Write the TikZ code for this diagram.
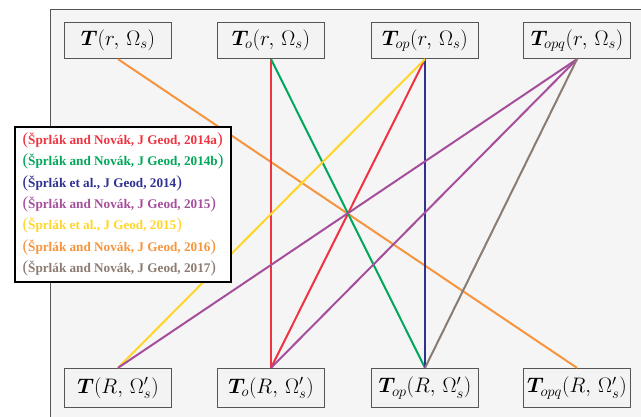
\RequirePackage{fix-cm}
\documentclass[tikz,border=0pt]{standalone}
\usepackage{bm}
\usepackage{fontspec}
\newfontfamily\legendfont{Liberation Serif}
\definecolor{framefill}{RGB}{245,245,245}
\definecolor{framegray}{RGB}{85,85,85}
\definecolor{boxfill}{RGB}{243,243,243}
\definecolor{cred}{RGB}{239,51,64}
\definecolor{cgreen}{RGB}{0,168,89}
\definecolor{cnavy}{RGB}{46,49,146}
\definecolor{cpurple}{RGB}{165,78,155}
\definecolor{cyellow}{RGB}{255,214,40}
\definecolor{corange}{RGB}{247,148,62}
\definecolor{cbrown}{RGB}{140,123,112}
\newcommand\lgd[2]{\textcolor{#1}{{\mdseries\fontsize{17}{17}\selectfont(}#2{\mdseries\fontsize{17}{17}\selectfont)}}}
\begin{document}
\begin{tikzpicture}[x=1pt,y=-1pt,
	box/.style={draw=framegray, line width=1.3pt, fill=boxfill, minimum width=107pt, minimum height=36pt, inner sep=0pt, font=\fontsize{21}{22}\selectfont},
	lowbox/.style={box, minimum height=39pt},
	link/.style={line width=2pt},
	legend/.style={draw=black, line width=1.2pt, fill=white, align=left, inner sep=0pt, minimum width=216pt, minimum height=155pt, font=\legendfont\bfseries\fontsize{13.2}{21.3}\selectfont}
	]
	\clip (0,0) rectangle (641,416);
	\fill[white] (0,0) rectangle (641,416);
	% frame
	\fill[framefill] (50,9) rectangle (700,450);
	\draw[framegray, line width=1pt] (700,9) -- (50,9) -- (50,450);
	% top row
	\node[box] (Tr) at (118,40.5) {$\bm{T}(r,\,\Omega_s)$};
	\node[box] (Tor) at (271,40.5) {$\bm{T}_{o}(r,\,\Omega_s)$};
	\node[box] (Topr) at (425,40.5) {$\bm{T}_{op}(r,\,\Omega_s)$};
	\node[box] (Topqr) at (577,40.5) {$\bm{T}_{opq}(r,\,\Omega_s)$};
	% bottom row
	\node[lowbox] (TR) at (118,388) {$\bm{T}(R,\,\Omega'_s)$};
	\node[lowbox] (ToR) at (271,388) {$\bm{T}_{o}(R,\,\Omega'_s)$};
	\node[lowbox] (TopR) at (425,388) {$\bm{T}_{op}(R,\,\Omega'_s)$};
	\node[lowbox] (TopqR) at (577,388) {$\bm{T}_{opq}(R,\,\Omega'_s)$};
	% links
	\draw[link, corange] (Tr.south) -- (TopqR.north);
	\draw[link, cred] (Tor.south) -- (ToR.north);
	\draw[link, cred] (Topr.south) -- (ToR.north);
	\draw[link, cgreen] (Tor.south) -- (TopR.north);
	\draw[link, cnavy] (Topr.south) -- (TopR.north);
	\draw[link, cyellow] (Topr.south) -- (TR.north);
	\draw[link, cpurple] (Topqr.south) -- (TR.north);
	\draw[link, cpurple] (Topqr.south) -- (ToR.north);
	\draw[link, cbrown] (Topqr.south) -- (TopR.north);
	% legend
	\node[legend] (key) at (123,204.5) {%
		\lgd{cred}{Šprlák and Novák, J Geod, 2014a}\\
		\lgd{cgreen}{Šprlák and Novák, J Geod, 2014b}\\
		\lgd{cnavy}{Šprlák et al., J Geod, 2014}\\
		\lgd{cpurple}{Šprlák and Novák, J Geod, 2015}\\
		\lgd{cyellow}{Šprlák et al., J Geod, 2015}\\
		\lgd{corange}{Šprlák and Novák, J Geod, 2016}\\
		\lgd{cbrown}{Šprlák and Novák, J Geod, 2017}};
\end{tikzpicture}
\end{document}
